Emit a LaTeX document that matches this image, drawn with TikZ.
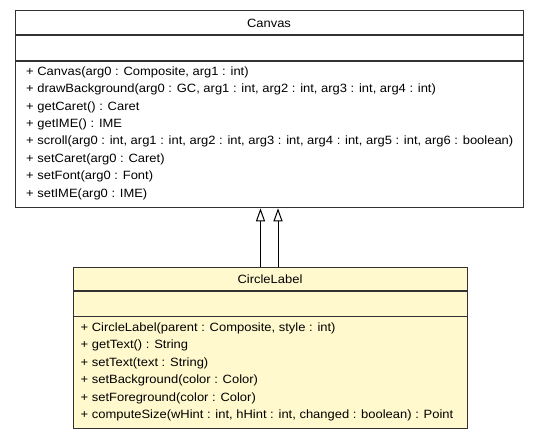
\documentclass[tikz,border=0pt]{standalone}
\usepackage{fontspec}
\setmainfont{Liberation Sans}[FakeStretch=1.08]
\usetikzlibrary{arrows.meta}
\definecolor{umlyellow}{RGB}{255,249,205}
\definecolor{umlline}{RGB}{50,50,50}
\begin{document}
\begin{tikzpicture}[x=1pt,y=-1pt,
  classbox/.style={draw=umlline, line width=1.3pt, anchor=north west, inner sep=0pt},
  divider/.style={draw=umlline, line width=1.3pt},
  title/.style={font=\fontsize{12}{13}\selectfont, inner sep=0pt, anchor=center},
  member/.style={font=\fontsize{12}{13}\selectfont, inner sep=0pt, anchor=west},
  inherit/.style={draw=black, line width=1pt, -{Triangle[open, width=9pt, length=13pt, fill=white]}}
]
\useasboundingbox (0,0) rectangle (539,440);
% Canvas
\node[classbox, fill=white, minimum width=508pt, minimum height=197pt] (canvas) at (15,10) {};
\node[title] (canvasT) at (269,23) {Canvas};
\draw[divider] (15,35) -- (523,35);
\draw[divider] (15,61) -- (523,61);
\node[member] (c1) at (26,72) {+ Canvas(arg0 : Composite, arg1 : int)};
\node[member] (c2) at (26,89.4) {+ drawBackground(arg0 : GC, arg1 : int, arg2 : int, arg3 : int, arg4 : int)};
\node[member] (c3) at (26,106.9) {+ getCaret() : Caret};
\node[member] (c4) at (26,124.3) {+ getIME() : IME};
\node[member] (c5) at (26,141.7) {+ scroll(arg0 : int, arg1 : int, arg2 : int, arg3 : int, arg4 : int, arg5 : int, arg6 : boolean)};
\node[member] (c6) at (26,159.1) {+ setCaret(arg0 : Caret)};
\node[member] (c7) at (26,176.6) {+ setFont(arg0 : Font)};
\node[member] (c8) at (26,194) {+ setIME(arg0 : IME)};
% CircleLabel
\node[classbox, fill=umlyellow, minimum width=394pt, minimum height=161pt] (circle) at (73,267) {};
\node[title] (circleT) at (270,279) {CircleLabel};
\draw[divider] (73,291) -- (467,291);
\draw[divider] (73,316.5) -- (467,316.5);
\node[member] (m1) at (80.5,328) {+ CircleLabel(parent : Composite, style : int)};
\node[member] (m2) at (80.5,345.5) {+ getText() : String};
\node[member] (m3) at (80.5,363) {+ setText(text : String)};
\node[member] (m4) at (80.5,380.5) {+ setBackground(color : Color)};
\node[member] (m5) at (80.5,398) {+ setForeground(color : Color)};
\node[member] (m6) at (80.5,415.5) {+ computeSize(wHint : int, hHint : int, changed : boolean) : Point};
% inheritance connectors
\draw[inherit] (circle.north -| 260.5,0) -- (canvas.south -| 260.5,0);
\draw[inherit] (circle.north -| 278,0) -- (canvas.south -| 278,0);
\end{tikzpicture}
\end{document}
